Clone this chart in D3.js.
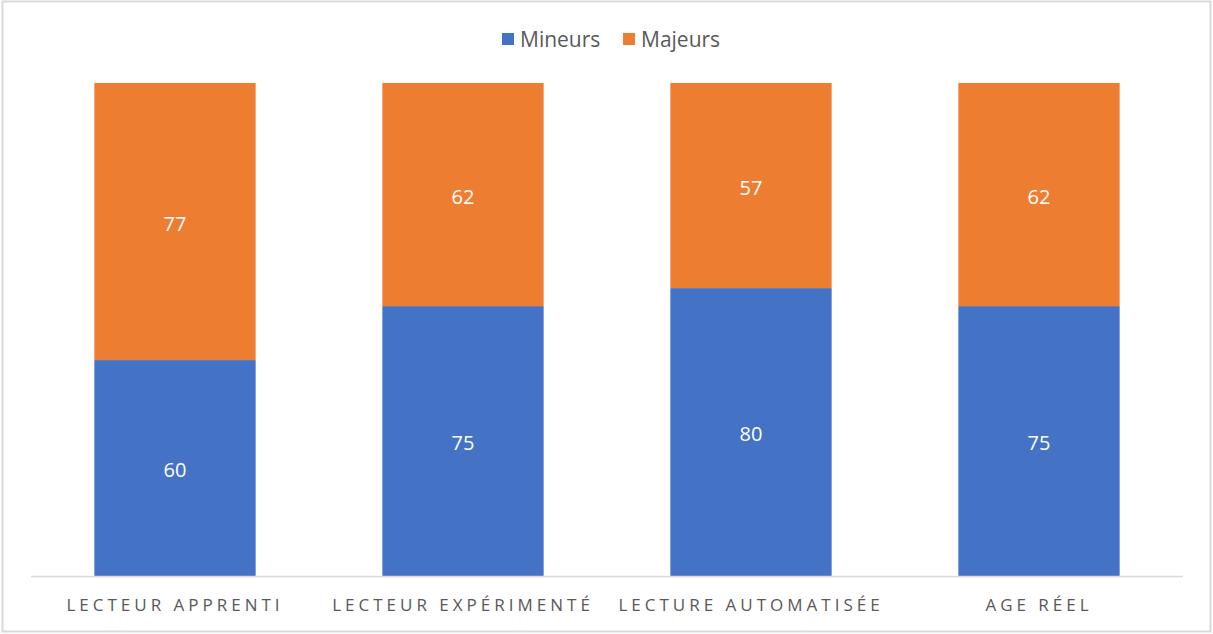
<!DOCTYPE html>
<html>
<head>
<meta charset="utf-8">
<script src="https://cdn.jsdelivr.net/npm/d3@7"></script>
<style>
body { margin: 0; background: #fff; }
svg { display: block; font-family: "Open Sans", "Liberation Sans", sans-serif; }
</style>
</head>
<body>
<div id="chart"></div>
<script>
const categories = ['LECTEUR APPRENTI', 'LECTEUR EXPÉRIMENTÉ', 'LECTURE AUTOMATISÉE', 'AGE RÉEL'];
const mineurs = [60, 75, 80, 75];
const majeurs = [77, 62, 57, 62];
const seriesNames = ['Mineurs', 'Majeurs'];
const colors = ['#4472c4', '#ed7d31'];

const W = 1213, H = 634;
const svg = d3.select('#chart').append('svg').attr('width', W).attr('height', H);

svg.append('rect').attr('x', 2.5).attr('y', 1.5).attr('width', W - 5).attr('height', H - 4)
  .attr('fill', '#fff').attr('stroke', '#d9d9d9').attr('stroke-width', 2);

const rows = categories.map((c, i) => ({ cat: c, Mineurs: mineurs[i], Majeurs: majeurs[i] }));
const stack = d3.stack().keys(seriesNames).offset(d3.stackOffsetExpand);
const layers = stack(rows);

const x = d3.scaleBand().domain(categories).range([31, 1183]).paddingInner(0.44).paddingOuter(0.22);
const y = d3.scaleLinear().domain([0, 1]).range([576, 83]);

const g = svg.append('g');
layers.forEach((layer, si) => {
  const lg = g.append('g');
  lg.selectAll('rect').data(layer).enter().append('rect')
    .attr('x', d => x(d.data.cat))
    .attr('width', x.bandwidth())
    .attr('y', d => y(d[1]))
    .attr('height', d => y(d[0]) - y(d[1]))
    .attr('fill', colors[si]);
  lg.selectAll('text').data(layer).enter().append('text')
    .attr('x', d => x(d.data.cat) + x.bandwidth() / 2)
    .attr('y', d => (y(d[0]) + y(d[1])) / 2 + 9)
    .attr('text-anchor', 'middle')
    .attr('fill', '#fff')
    .attr('font-size', 20)
    .text(d => d.data[seriesNames[si]]);
});

// axis
const axis = svg.append('g').attr('transform', 'translate(0,576)')
  .call(d3.axisBottom(x).tickSize(0).tickPadding(0));
axis.select('.domain').attr('stroke', '#d9d9d9').attr('stroke-width', 1.5)
  .attr('d', 'M31,0.5H1183');
axis.selectAll('text')
  .attr('y', 35)
  .attr('dy', 0)
  .attr('fill', '#595959')
  .attr('font-size', 17)
  .attr('font-family', '"Open Sans", sans-serif')
  .style('letter-spacing', '4px');

// legend
const legend = svg.append('g');
const legendX = [502, 623];
seriesNames.forEach((s, i) => {
  legend.append('rect').attr('x', legendX[i]).attr('y', 33).attr('width', 12).attr('height', 12).attr('fill', colors[i]);
  legend.append('text').attr('x', legendX[i] + 18).attr('y', 47)
    .attr('fill', '#595959').attr('font-size', 21).text(s);
});
</script>
</body>
</html>
